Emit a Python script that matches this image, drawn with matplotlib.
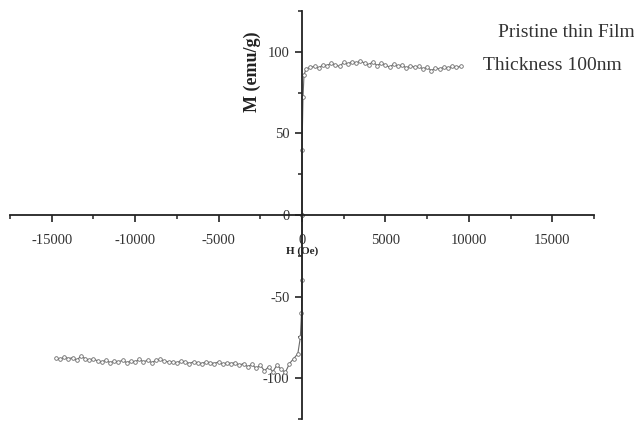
import matplotlib
matplotlib.use("Agg")
import matplotlib.pyplot as plt
from matplotlib.ticker import MultipleLocator

plt.rcParams['font.family'] = ['Liberation Serif', 'DejaVu Serif']
plt.rcParams['axes.unicode_minus'] = False

# upper branch (positive field)
h_up = [0, 0, 60, 120, 250, 500, 750, 1000, 1250, 1500, 1750, 2000, 2250,
        2500, 2750, 3000, 3250, 3500, 3750, 4000, 4250, 4500, 4750, 5000,
        5250, 5500, 5750, 6000, 6250, 6500, 6750, 7000, 7250, 7500, 7750,
        8000, 8250, 8500, 8750, 9000, 9250, 9500]
m_up = [0, 40, 72, 86, 89.5, 90.5, 91, 90, 92, 91.5, 93, 92, 91,
        93.5, 92.5, 94, 93, 94.5, 93, 92, 94, 91.5, 93, 92,
        90.5, 92.5, 91, 92, 90, 91.5, 90.5, 91, 89.5, 90.5, 88.5,
        90, 89.5, 90.5, 90, 91, 90.5, 91]

# lower branch (negative field)
h_down = [-14750, -14500, -14250, -14000, -13750, -13500, -13250, -13000,
          -12750, -12500, -12250, -12000, -11750, -11500, -11250, -11000,
          -10750, -10500, -10250, -10000, -9750, -9500, -9250, -9000,
          -8750, -8500, -8250, -8000, -7750, -7500, -7250, -7000,
          -6750, -6500, -6250, -6000, -5750, -5500, -5250, -5000,
          -4750, -4500, -4250, -4000, -3750, -3500, -3250, -3000,
          -2750, -2500, -2250, -2000, -1750, -1500, -1250, -1000,
          -750, -500, -250, -100, -30, 0, 0]
m_down = [-87.5, -88.5, -87, -88, -87.5, -89, -86.5, -88,
          -89, -88, -89.5, -90, -89, -90.5, -89.5, -90,
          -89, -90.5, -89.5, -90, -88.5, -90, -89, -90.5,
          -89, -88.5, -89.5, -90, -90, -90.5, -89.5, -90,
          -91, -90, -90.5, -91, -90, -90.5, -91, -90,
          -91.5, -90.5, -91, -90.5, -92, -91, -93, -91.5,
          -94, -92, -95.5, -93, -96, -92, -94.5, -96.5,
          -91, -88, -85, -75, -60, -40, 0]

x_ticks = [-15000, -10000, -5000, 0, 5000, 10000, 15000]
y_ticks = [-100, -50, 0, 50, 100]

fig = plt.figure(figsize=(6.34, 4.23), dpi=100)
ax = fig.add_axes([10 / 634, 1 - 419 / 423, 584 / 634, 408 / 423])

style = dict(color='#6a6a6a', lw=0.8, marker='o', ms=2.6, mfc='white',
             mec='#6a6a6a', mew=0.6)
ax.plot(h_down, m_down, **style)
ax.plot(h_up, m_up, **style)

ax.set_xlim(-17500, 17500)
ax.set_ylim(-125, 125)

for side in ['top', 'right']:
    ax.spines[side].set_visible(False)
ax.spines['left'].set_position(('data', 0))
ax.spines['bottom'].set_position(('data', 0))
for side in ['left', 'bottom']:
    ax.spines[side].set_linewidth(1.3)
    ax.spines[side].set_color('#222222')

ax.set_xticks(x_ticks)
ax.set_yticks(y_ticks)
ax.xaxis.set_minor_locator(MultipleLocator(2500))
ax.yaxis.set_minor_locator(MultipleLocator(25))
ax.tick_params(axis='both', which='major', direction='out', length=5,
               width=1.2, color='#222222', labelsize=10.5, labelcolor='#333333')
ax.tick_params(axis='both', which='minor', direction='out', length=3,
               width=1.1, color='#222222')
ax.tick_params(axis='x', which='major', pad=9)
ax.tick_params(axis='y', which='major', pad=4)

ax.text(0, -22, 'H (Oe)', ha='center', va='center', fontsize=8,
        fontweight='bold', color='#222222')
ax.text(-3000, 88, 'M (emu/g)', ha='center', va='center', rotation=90,
        fontsize=13, fontweight='bold', color='#222222')

fig.text(0.786, 0.924, 'Pristine thin Film', ha='left', va='center',
         fontsize=14, color='#333333')
fig.text(0.762, 0.844, 'Thickness 100nm', ha='left', va='center',
         fontsize=14, color='#333333')

fig.savefig('out.png', dpi=100)
